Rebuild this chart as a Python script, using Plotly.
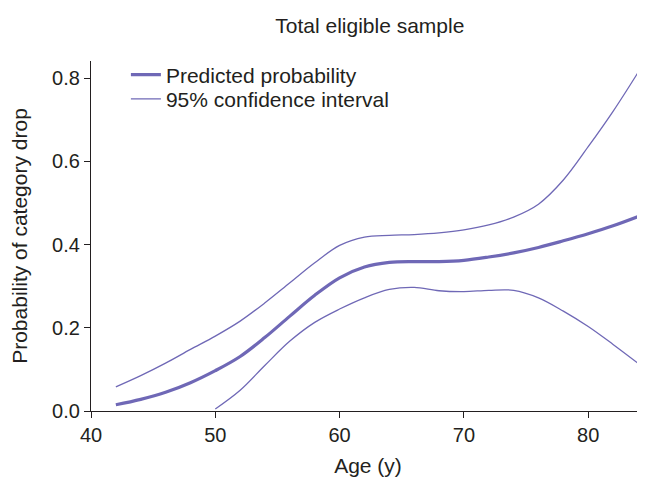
import plotly.graph_objects as go

ages = [42, 44, 46, 48, 50, 52, 54, 56, 58, 60, 62, 64, 66, 68, 70, 72, 74, 76, 78, 80, 82, 84]
predicted = [0.015, 0.028, 0.045, 0.068, 0.097, 0.131, 0.177, 0.228, 0.278, 0.320, 0.346, 0.357,
             0.359, 0.359, 0.362, 0.370, 0.380, 0.393, 0.409, 0.426, 0.445, 0.467]
upper = [0.058, 0.085, 0.115, 0.148, 0.180, 0.216, 0.260, 0.308, 0.356, 0.398, 0.418, 0.422,
         0.424, 0.428, 0.435, 0.447, 0.466, 0.497, 0.555, 0.635, 0.720, 0.813]
lower_ages = [50, 52, 54, 56, 58, 60, 62, 64, 66, 68, 70, 72, 74, 76, 78, 80, 82, 84]
lower = [0.005, 0.050, 0.110, 0.168, 0.213, 0.245, 0.272, 0.292, 0.297, 0.289, 0.287, 0.290,
         0.290, 0.272, 0.240, 0.203, 0.160, 0.115]

col = "#6f68b6"
txt = "#231f20"
font = "Liberation Sans, Arial, sans-serif"

fig = go.Figure()
fig.add_trace(go.Scatter(x=ages, y=predicted, mode="lines", name="Predicted probability",
                         legend="legend",
                         line=dict(color=col, width=3.2, shape="spline")))
fig.add_trace(go.Scatter(x=ages, y=upper, mode="lines", name="95% confidence interval",
                         legend="legend2",
                         line=dict(color=col, width=1.3, shape="spline")))
fig.add_trace(go.Scatter(x=lower_ages, y=lower, mode="lines", name="95% confidence interval",
                         showlegend=False, legend="legend2",
                         line=dict(color=col, width=1.3, shape="spline")))

leg_common = dict(xanchor="left", yanchor="middle", bgcolor="rgba(0,0,0,0)",
                  font=dict(size=21, color=txt))

fig.update_layout(
    width=645, height=483,
    margin=dict(l=83, r=8, t=53, b=80, autoexpand=False),
    plot_bgcolor="white", paper_bgcolor="white",
    font=dict(family=font, color=txt, size=21),
    title=dict(text="Total eligible sample", x=0.561, xanchor="center", y=0.963, yanchor="middle",
               xref="container", yref="container", automargin=False,
               font=dict(size=21, color=txt)),
    xaxis=dict(range=[40, 84.57], tickvals=[40, 50, 60, 70, 80], showgrid=False, zeroline=False,
               showline=True, linecolor=txt, linewidth=1.3, ticks="outside", ticklen=6,
               tickcolor=txt, tickfont=dict(size=20), automargin=False,
               title=dict(text="Age (y)", font=dict(size=21), standoff=13)),
    yaxis=dict(range=[0, 0.841], tickvals=[0, 0.2, 0.4, 0.6, 0.8], tickformat=".1f",
               showgrid=False, zeroline=False, showline=True, linecolor=txt, linewidth=1.3,
               ticks="outside", ticklen=6, tickcolor=txt, tickfont=dict(size=20), automargin=False,
               title=dict(text="Probability of category drop", font=dict(size=21), standoff=18)),
    legend=dict(x=0.063, y=0.96, **leg_common),
    legend2=dict(x=0.063, y=0.891, **leg_common),
    showlegend=True,
)

fig.write_html("out.html")
